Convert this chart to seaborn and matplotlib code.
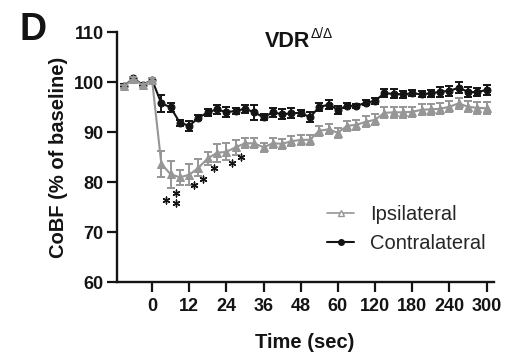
import numpy as np
import pandas as pd
import matplotlib
matplotlib.use("Agg")
import matplotlib.pyplot as plt
from matplotlib.lines import Line2D
import seaborn as sns

# ---------------- data ----------------
time_sec = [-9, -6, -3] + list(range(0, 61, 3)) + list(range(75, 301, 15))
tick_times = [0, 12, 24, 36, 48, 60, 120, 180, 240, 300]
tick_labels = ["0", "12", "24", "36", "48", "60", "120", "180", "240", "300"]

contra_mean = [99.3, 100.8, 99.5, 100.5,
               95.8, 95.0, 91.9, 91.3, 92.9, 94.0, 94.6, 94.0, 94.3, 94.7,
               94.0, 93.0, 94.0, 93.6, 93.8, 93.9, 93.0, 95.1, 95.5, 94.5,
               95.3, 95.3, 95.9, 96.3, 97.8, 97.7, 97.6, 97.8, 97.6, 97.8,
               98.1, 98.3, 98.9, 98.1, 98.0, 98.5]
contra_sem = [0.3, 0.3, 0.3, 0.3,
              1.7, 0.9, 0.6, 1.0, 0.5, 0.7, 0.9, 1.0, 0.6, 0.8,
              1.5, 0.6, 0.9, 1.0, 1.0, 0.6, 1.0, 0.8, 0.9, 0.8,
              0.5, 0.4, 0.5, 0.6, 0.8, 0.9, 0.7, 0.6, 0.6, 0.7,
              1.0, 1.0, 1.1, 1.0, 0.8, 1.0]
ipsi_mean = [99.2, 100.7, 99.4, 100.5,
             83.7, 81.6, 81.0, 81.5, 82.9, 84.8, 85.9, 86.1, 87.0, 87.8,
             87.8, 87.0, 87.8, 87.7, 88.2, 88.5, 88.5, 90.3, 90.6, 89.9,
             91.3, 91.5, 92.1, 92.5, 93.9, 94.0, 94.0, 94.1, 94.5, 94.6,
             94.7, 95.1, 95.8, 95.1, 94.9, 94.8]
ipsi_sem = [0.3, 0.3, 0.3, 0.3,
            2.6, 2.7, 1.5, 2.1, 1.7, 1.3, 1.8, 1.7, 1.5, 1.0,
            1.0, 0.9, 1.0, 1.0, 1.0, 1.0, 1.0, 1.0, 1.0, 1.0,
            1.0, 1.0, 1.1, 1.1, 1.1, 1.1, 1.1, 1.0, 1.1, 1.1,
            1.1, 1.1, 1.1, 1.1, 1.2, 1.2]

# significance asterisks (time in sec, value)
star_time = [4.5, 7.8, 7.8, 13.5, 16.5, 20.1, 25.8, 28.8]
star_value = [76.4, 77.9, 75.9, 79.5, 80.6, 82.8, 83.9, 85.1]

groups = ["Ipsilateral", "Contralateral"]


# x axis: evenly spaced sample slots (3 s steps up to 60 s, 15 s steps after)
def to_pos(t):
    t = np.asarray(t, dtype=float)
    return np.where(t <= 60, t / 3.0, 20 + (t - 60) / 15.0)


df = pd.concat([
    pd.DataFrame({"pos": to_pos(time_sec), "value": ipsi_mean, "sem": ipsi_sem, "group": "Ipsilateral"}),
    pd.DataFrame({"pos": to_pos(time_sec), "value": contra_mean, "sem": contra_sem, "group": "Contralateral"}),
], ignore_index=True)

# ---------------- style ----------------
sns.set_style("ticks")
plt.rcParams["font.family"] = ["Liberation Sans", "DejaVu Sans"]

GRAY = "#969696"
BLACK = "#141414"
colors = {"Ipsilateral": GRAY, "Contralateral": BLACK}
markers = {"Ipsilateral": "^", "Contralateral": "o"}

fig = plt.figure(figsize=(5.08, 3.58), dpi=100)
ax = fig.add_axes([117 / 508, 1 - 282.3 / 358, (494 - 117) / 508, 250 / 358])

for g, z in [("Contralateral", 3), ("Ipsilateral", 4)]:
    sub = df[df["group"] == g]
    ax.errorbar(sub["pos"], sub["value"], yerr=sub["sem"], fmt="none",
                ecolor=colors[g], elinewidth=1.4, capsize=2.6, capthick=1.4, zorder=z)
    sns.lineplot(data=sub, x="pos", y="value", color=colors[g], marker=markers[g],
                 markersize=5 if g == "Contralateral" else 5.5,
                 markeredgecolor=colors[g], markerfacecolor=colors[g],
                 linewidth=1.5, estimator=None, sort=False, ax=ax, zorder=z + 0.5,
                 legend=False)

ax.scatter(to_pos(star_time), star_value, marker=(6, 2, 0), s=24, color=BLACK,
           linewidths=1.0, zorder=5)

ax.set_xlim(-3.77, 36.8)
ax.set_ylim(60, 110)
ax.set_yticks(np.arange(60, 111, 10))
ax.set_xticks(to_pos(tick_times))
ax.set_xticklabels(tick_labels)
ax.set_xlabel("")
ax.set_ylabel("")
sns.despine(ax=ax)
for s in ["left", "bottom"]:
    ax.spines[s].set_linewidth(1.7)
    ax.spines[s].set_color(BLACK)
ax.tick_params(axis="both", length=7.5, width=1.6, color=BLACK, labelsize=13,
               labelcolor=BLACK)
ax.tick_params(axis="x", pad=3.5)
ax.tick_params(axis="y", pad=2)
for lab in ax.get_xticklabels() + ax.get_yticklabels():
    lab.set_fontweight("bold")

# axis labels
fig.text(305 / 508, 1 - 343 / 358, "Time (sec)", ha="center", va="center",
         fontsize=14.5, fontweight="bold", color=BLACK)
fig.text(59 / 508, 1 - 157.3 / 358, "CoBF (% of baseline)", ha="center", va="center",
         rotation=90, fontsize=14.5, fontweight="bold", color=BLACK)

# title and panel letter
fig.text(265 / 508, 1 - 47 / 358, "VDR", ha="left", va="baseline",
         fontsize=15.5, fontweight="bold", color=BLACK)
fig.text(310.5 / 508, 1 - 38 / 358, "Δ/Δ", ha="left", va="baseline",
         fontsize=10, color=BLACK)
fig.text(20 / 508, 1 - 40 / 358, "D", ha="left", va="baseline",
         fontsize=27, fontweight="bold", color=BLACK)

# legend
handles = [
    Line2D([], [], color=GRAY, marker="^", markersize=4.5, markerfacecolor="white",
           markeredgecolor=GRAY, linewidth=1.2),
    Line2D([], [], color=BLACK, marker="o", markersize=4, linewidth=1.5),
]
fig.legend(handles, groups, loc="upper left", bbox_to_anchor=(327 / 508, 1 - 205 / 358),
           frameon=False, fontsize=14.5, handlelength=1.35, handletextpad=0.8,
           labelspacing=0.5, borderpad=0, borderaxespad=0)

fig.savefig("out.png", dpi=100)
